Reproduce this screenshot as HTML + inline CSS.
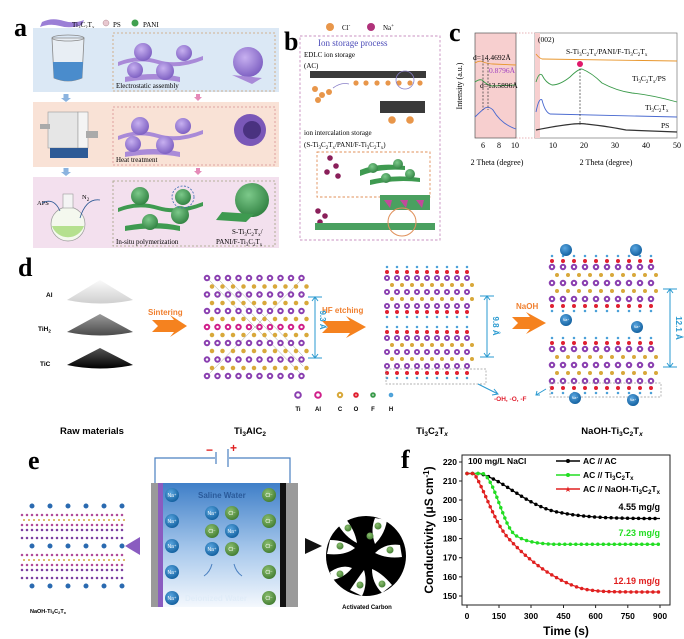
<!DOCTYPE html>
<html><head><meta charset="utf-8"><style>
body{margin:0;background:#fff}
svg{display:block}
.s{font-family:"Liberation Serif",serif}
.a{font-family:"Liberation Sans",sans-serif}
</style></head><body>
<svg width="684" height="639" viewBox="0 0 684 639" xmlns="http://www.w3.org/2000/svg">
<defs>
<linearGradient id="cone1" x1="0" y1="0" x2="0" y2="1"><stop offset="0" stop-color="#fafafa"/><stop offset="1" stop-color="#cfcfcf"/></linearGradient>
<linearGradient id="cone2" x1="0" y1="0" x2="0" y2="1"><stop offset="0" stop-color="#9a9a9a"/><stop offset="1" stop-color="#4a4a4a"/></linearGradient>
<linearGradient id="cone3" x1="0" y1="0" x2="0" y2="1"><stop offset="0" stop-color="#555"/><stop offset="1" stop-color="#000"/></linearGradient>
<linearGradient id="water" x1="0" y1="0" x2="0" y2="1"><stop offset="0" stop-color="#3f7fc8"/><stop offset="0.55" stop-color="#a9c9ec"/><stop offset="1" stop-color="#f4f8fd"/></linearGradient>
<radialGradient id="na" cx="0.4" cy="0.35" r="0.7"><stop offset="0" stop-color="#5aa6e0"/><stop offset="1" stop-color="#0f5d9c"/></radialGradient>
<radialGradient id="cl" cx="0.4" cy="0.35" r="0.7"><stop offset="0" stop-color="#8cbf70"/><stop offset="1" stop-color="#3f7a2f"/></radialGradient>
<radialGradient id="ps" cx="0.4" cy="0.35" r="0.7"><stop offset="0" stop-color="#c7b0f0"/><stop offset="1" stop-color="#7a5cc0"/></radialGradient>
<radialGradient id="pani" cx="0.4" cy="0.35" r="0.7"><stop offset="0" stop-color="#7cc98a"/><stop offset="1" stop-color="#2f8040"/></radialGradient>
</defs>

<!-- ===== Panel a ===== -->
<text x="14" y="36" class="s" font-size="26" font-weight="bold">a</text>
<path d="M42 22 q10 -5 22 -1 q10 3 20 -1 l-2 5 q-12 4 -22 1 q-10 -3 -20 1z" fill="#9b7fd6"/>
<text x="72" y="27" class="s" font-size="7">Ti<tspan font-size="5" dy="2">3</tspan><tspan dy="-2">C</tspan><tspan font-size="5" dy="2">2</tspan><tspan dy="-2">T</tspan><tspan font-size="5" dy="2">x</tspan></text>
<circle cx="106" cy="23" r="3" fill="#e8c8d0" stroke="#b08890" stroke-width="0.5"/><text x="113" y="27" class="s" font-size="7">PS</text>
<circle cx="135" cy="23" r="3.5" fill="#3fa050"/><text x="143" y="27" class="s" font-size="7">PANI</text>
<rect x="33" y="28" width="246" height="64" fill="#dbe8f5"/>
<rect x="33" y="102" width="246" height="65" fill="#f9e2d6"/>
<rect x="33" y="177" width="246" height="71" fill="#f3e0ee"/>
<rect x="113" y="33" width="162" height="58" fill="none" stroke="#d0a070" stroke-dasharray="2 2" stroke-width="0.8"/>
<rect x="113" y="107" width="162" height="58" fill="none" stroke="#d89090" stroke-dasharray="2 2" stroke-width="0.8"/>
<rect x="113" y="181" width="162" height="65" fill="none" stroke="#a0a080" stroke-dasharray="2 2" stroke-width="0.8"/>
<!-- beaker -->
<path d="M52 38 l2 40 q14 6 28 0 l2 -40z" fill="#e8eef4" stroke="#888" stroke-width="0.8"/>
<path d="M53 62 l1 16 q14 6 28 0 l1 -16z" fill="#4a8ccc"/>
<ellipse cx="68" cy="38" rx="16" ry="3" fill="none" stroke="#888" stroke-width="0.8"/>
<!-- furnace -->
<rect x="48" y="112" width="30" height="36" fill="#e6e6e6" stroke="#999" stroke-width="0.6"/>
<rect x="78" y="112" width="10" height="36" fill="#f4f4f4" stroke="#999" stroke-width="0.6"/>
<rect x="50" y="148" width="38" height="10" fill="#2e5a96"/>
<rect x="40" y="124" width="10" height="5" fill="#aaa"/><rect x="86" y="131" width="12" height="7" fill="#aaa"/>
<!-- flask -->
<circle cx="68" cy="224" r="17" fill="#f4f8ee" stroke="#999" stroke-width="0.7"/>
<path d="M52 226 a17 17 0 0 0 32 0z" fill="#b5e08f"/>
<rect x="63" y="194" width="10" height="14" fill="#f4f4f4" stroke="#999" stroke-width="0.6"/>
<text x="37" y="205" class="s" font-size="6.5">APS</text><text x="82" y="199" class="s" font-size="6.5">N<tspan font-size="5" dy="2">2</tspan></text>
<path d="M42 203 q12 -6 18 8" fill="none" stroke="#2e5a96" stroke-width="0.8"/><path d="M100 200 q-14 -2 -20 18" fill="none" stroke="#2e5a96" stroke-width="0.8"/>
<!-- arrows -->
<path d="M66 94 v5" stroke="#8bb3df" stroke-width="5"/><path d="M61 98 l5 4 l5 -4z" fill="#8bb3df"/>
<path d="M66 168 v5" stroke="#8bb3df" stroke-width="5"/><path d="M61 172 l5 4 l5 -4z" fill="#8bb3df"/>
<path d="M198 94 v4" stroke="#e58ab8" stroke-width="4"/><path d="M194 97 l4 4 l4 -4z" fill="#e58ab8"/>
<path d="M198 168 v4" stroke="#e58ab8" stroke-width="4"/><path d="M194 171 l4 4 l4 -4z" fill="#e58ab8"/>
<!-- spheres rows -->
<g>
<path d="M118 62 q20 -8 40 -2 q20 6 45 -4 l0 4 q-25 10 -45 4 q-20 -6 -40 2z" fill="#a98ad8"/>
<path d="M125 77 q30 -6 55 0 l0 5 q-25 -5 -55 0z" fill="#a98ad8"/>
<circle cx="143" cy="52" r="9" fill="url(#ps)"/><circle cx="184" cy="53" r="8" fill="url(#ps)"/><circle cx="135" cy="70" r="8" fill="url(#ps)"/><circle cx="165" cy="71" r="9" fill="url(#ps)"/>
<circle cx="248" cy="62" r="15" fill="url(#ps)"/><path d="M232 75 l30 3 l-10 6z" fill="#a98ad8"/>
<text x="116" y="88" class="s" font-size="7">Electrostatic assembly</text>
</g>
<g>
<path d="M118 136 q20 -8 40 -2 q20 6 45 -4 l0 4 q-25 10 -45 4 q-20 -6 -40 2z" fill="#a98ad8"/>
<path d="M125 152 q30 -6 55 0 l0 5 q-25 -5 -55 0z" fill="#a98ad8"/>
<circle cx="140" cy="126" r="9" fill="url(#ps)"/><circle cx="183" cy="126" r="8" fill="url(#ps)"/><circle cx="133" cy="144" r="8" fill="url(#ps)"/><circle cx="165" cy="145" r="9" fill="url(#ps)"/>
<circle cx="250" cy="130" r="16" fill="#7a58b8"/><circle cx="252" cy="130" r="9" fill="#4a3280"/>
<text x="116" y="162" class="s" font-size="7">Heat treatment</text>
</g>
<g>
<path d="M118 208 q20 -8 40 -2 q20 6 45 -4 l0 4 q-25 10 -45 4 q-20 -6 -40 2z" fill="#3e9a50"/>
<path d="M125 226 q30 -6 55 0 l0 5 q-25 -5 -55 0z" fill="#3e9a50"/>
<circle cx="140" cy="196" r="9" fill="url(#pani)"/><circle cx="183" cy="197" r="8" fill="url(#pani)"/><circle cx="150" cy="222" r="8" fill="url(#pani)"/><circle cx="180" cy="215" r="9" fill="url(#pani)"/>
<circle cx="252" cy="200" r="17" fill="url(#pani)"/><path d="M222 212 l32 2 l-8 8 l-30 -2z" fill="#3e9a50"/>
<circle cx="183" cy="197" r="11" fill="none" stroke="#3a6ab0" stroke-dasharray="2 1.5" stroke-width="0.8"/>
<text x="116" y="244" class="s" font-size="7">In-situ polymerization</text>
<text x="232" y="234" class="s" font-size="7">S-Ti<tspan font-size="5" dy="2">3</tspan><tspan dy="-2">C</tspan><tspan font-size="5" dy="2">2</tspan><tspan dy="-2">T</tspan><tspan font-size="5" dy="2">x</tspan><tspan dy="-2">/</tspan></text>
<text x="216" y="244" class="s" font-size="7">PANI/F-Ti<tspan font-size="5" dy="2">3</tspan><tspan dy="-2">C</tspan><tspan font-size="5" dy="2">2</tspan><tspan dy="-2">T</tspan><tspan font-size="5" dy="2">x</tspan></text>
</g>

<!-- ===== Panel b ===== -->
<text x="284" y="50" class="s" font-size="26" font-weight="bold">b</text>
<circle cx="330" cy="27" r="4" fill="#e8964a"/><text x="342" y="30" class="s" font-size="7">Cl<tspan font-size="5" dy="-3">-</tspan></text>
<circle cx="371" cy="27" r="4" fill="#b0327a"/><text x="383" y="30" class="s" font-size="7">Na<tspan font-size="5" dy="-3">+</tspan></text>
<rect x="300" y="36" width="140" height="204" fill="none" stroke="#c890c0" stroke-dasharray="2.5 2" stroke-width="0.9"/>
<text x="318" y="46" class="s" font-size="9" fill="#4a4ab8">Ion storage process</text>
<text x="304" y="57" class="s" font-size="7">EDLC ion storage</text>
<text x="304" y="68" class="s" font-size="7">(AC)</text>
<rect x="310" y="71" width="116" height="7" fill="#3a3a3a"/>
<g fill="#e8964a"><circle cx="356" cy="83" r="2.6"/><circle cx="366" cy="83" r="2.6"/><circle cx="377" cy="83" r="2.6"/><circle cx="388" cy="83" r="2.6"/><circle cx="399" cy="83" r="2.6"/><circle cx="410" cy="83" r="2.6"/><circle cx="420" cy="83" r="2.6"/><circle cx="315" cy="89" r="3"/><circle cx="322" cy="95" r="3"/><circle cx="329" cy="92" r="3"/><circle cx="318" cy="100" r="3"/><circle cx="392" cy="120" r="3.8"/><circle cx="410" cy="120" r="3.8"/></g>
<circle cx="405" cy="80" r="9" fill="none" stroke="#8a80c8" stroke-width="0.8"/>
<path d="M333 88 q8 -6 16 -4" fill="none" stroke="#8a80c8" stroke-width="0.8"/>
<rect x="380" y="101" width="45" height="12" fill="#3a3a3a"/>
<text x="304" y="135" class="s" font-size="7">ion intercalation storage</text>
<text x="304" y="147" class="s" font-size="7">(S-Ti<tspan font-size="5" dy="2">3</tspan><tspan dy="-2">C</tspan><tspan font-size="5" dy="2">2</tspan><tspan dy="-2">T</tspan><tspan font-size="5" dy="2">x</tspan><tspan dy="-2">/PANI/F-Ti</tspan><tspan font-size="5" dy="2">3</tspan><tspan dy="-2">C</tspan><tspan font-size="5" dy="2">2</tspan><tspan dy="-2">T</tspan><tspan font-size="5" dy="2">x</tspan><tspan dy="-2">)</tspan></text>
<rect x="317" y="152" width="113" height="45" fill="none" stroke="#e0905a" stroke-dasharray="2.5 2" stroke-width="0.9"/>
<g fill="#8a1f5a"><circle cx="330" cy="158" r="2.8"/><circle cx="336" cy="166" r="2.8"/><circle cx="327" cy="172" r="2.8"/><circle cx="338" cy="176" r="2.8"/><circle cx="318" cy="211" r="2.8"/><circle cx="325" cy="216" r="2.8"/><circle cx="320" cy="222" r="2.8"/></g>
<path d="M360 170 q20 -8 45 -4 l0 4 q-25 -2 -45 6z" fill="#3e9a50"/><path d="M370 180 q25 -6 50 -2 l0 4 q-25 -3 -50 3z" fill="#3e9a50"/>
<circle cx="373" cy="168" r="5" fill="url(#pani)"/><circle cx="398" cy="164" r="5" fill="url(#pani)"/><circle cx="386" cy="178" r="5" fill="url(#pani)"/><circle cx="410" cy="174" r="5" fill="url(#pani)"/>
<rect x="380" y="195" width="50" height="15" fill="#4aa060"/><path d="M384 200 l8 0 l-2 8z M400 200 l8 0 l-2 8z M416 200 l8 0 l-2 8z" fill="#c24a9a"/>
<rect x="315" y="223" width="120" height="7" fill="#4aa060"/>
<circle cx="402" cy="222" r="14" fill="none" stroke="#e0905a" stroke-width="1"/>

<!-- ===== Panel c ===== -->
<text x="449" y="41" class="s" font-size="26" font-weight="bold">c</text>
<rect x="475" y="33" width="41" height="105" fill="#f7cfcf" stroke="#555" stroke-width="0.7"/>
<rect x="535" y="33" width="142" height="105" fill="#fff" stroke="#777" stroke-width="0.7"/>
<rect x="535" y="33" width="5" height="105" fill="#f7cfcf"/>
<path d="M516 33 L535 33 M516 138 L535 138" stroke="#e09aa0" stroke-dasharray="1.5 1.5" stroke-width="0.7"/>
<text x="462" y="86" class="s" font-size="8" transform="rotate(-90 462 86)" text-anchor="middle">Intensity (a.u.)</text>
<g class="s" font-size="8" text-anchor="middle"><text x="483" y="148">6</text><text x="499" y="148">8</text><text x="515" y="148">10</text><text x="553" y="148">10</text><text x="584" y="148">20</text><text x="615" y="148">30</text><text x="646" y="148">40</text><text x="677" y="148">50</text>
<text x="497" y="165">2 Theta (degree)</text><text x="606" y="165">2 Theta (degree)</text></g>
<path d="M475 63 q5 -3 8 -1 q6 2 10 2 l23 1" fill="none" stroke="#e8962c" stroke-width="0.9"/>
<path d="M475 82 q4 -3 7 -2 q5 5 10 6 l24 -1" fill="none" stroke="#3a9a4a" stroke-width="0.9"/>
<path d="M475 117 q6 -6 10 -9 q4 -2 8 2 q8 14 23 19" fill="none" stroke="#4a6ad0" stroke-width="0.9"/>
<path d="M483 60 v50 M488 60 v50" stroke="#333" stroke-dasharray="2 1.5" stroke-width="0.7"/>
<text x="473" y="60" class="s" font-size="7.5">d=14.4692Å</text>
<text x="489" y="73" class="s" font-size="7.5" fill="#a040c0">0.8796Å</text>
<text x="480" y="88" class="s" font-size="7.5">d=13.5896Å</text>
<path d="M536 54 q3 4 6 5 l135 2" fill="none" stroke="#e8962c" stroke-width="0.9"/>
<path d="M536 82 q3 -10 6 -7 q4 8 10 10 q8 0 18 -8 q8 -8 12 -8 q10 4 20 14 q15 8 30 10 q20 2 45 9" fill="none" stroke="#3a9a4a" stroke-width="0.9"/>
<path d="M536 112 q3 -15 6 -12 q3 12 8 14 l127 3" fill="none" stroke="#4a6ad0" stroke-width="0.9"/>
<path d="M536 130 q40 -8 50 -6 q20 2 40 6 l51 2" fill="none" stroke="#333" stroke-width="1.2"/>
<path d="M580 65 v60" stroke="#333" stroke-dasharray="2 1.5" stroke-width="0.7"/>
<circle cx="580" cy="64" r="3" fill="#e0186a"/>
<text x="538" y="42" class="s" font-size="7.5">(002)</text>
<text x="566" y="54" class="s" font-size="7.5">S-Ti<tspan font-size="5" dy="2">3</tspan><tspan dy="-2">C</tspan><tspan font-size="5" dy="2">2</tspan><tspan dy="-2">T</tspan><tspan font-size="5" dy="2">x</tspan><tspan dy="-2">/PANI/F-Ti</tspan><tspan font-size="5" dy="2">3</tspan><tspan dy="-2">C</tspan><tspan font-size="5" dy="2">2</tspan><tspan dy="-2">T</tspan><tspan font-size="5" dy="2">x</tspan></text>
<text x="632" y="81" class="s" font-size="7.5">Ti<tspan font-size="5" dy="2">3</tspan><tspan dy="-2">C</tspan><tspan font-size="5" dy="2">2</tspan><tspan dy="-2">T</tspan><tspan font-size="5" dy="2">x</tspan><tspan dy="-2">/PS</tspan></text>
<text x="645" y="110" class="s" font-size="7.5">Ti<tspan font-size="5" dy="2">3</tspan><tspan dy="-2">C</tspan><tspan font-size="5" dy="2">2</tspan><tspan dy="-2">T</tspan><tspan font-size="5" dy="2">x</tspan></text>
<text x="661" y="128" class="s" font-size="7.5">PS</text>

<!-- ===== Panel d ===== -->
<text x="18" y="276" class="s" font-size="26" font-weight="bold">d</text>
<path d="M67 300 L100 280 L133 300 Q100 307 67 300z" fill="url(#cone1)"/>
<path d="M67 332 L100 314 L133 332 Q100 339 67 332z" fill="url(#cone2)"/>
<path d="M67 365 L100 348 L133 365 Q100 372 67 365z" fill="url(#cone3)"/>
<g class="a" font-size="6.5" font-weight="bold"><text x="46" y="297">Al</text><text x="38" y="331">TiH<tspan font-size="4.5" dy="1.5">2</tspan></text><text x="40" y="366">TiC</text></g>
<text x="148" y="315" class="a" font-size="8" font-weight="bold" fill="#f08030">Sintering</text>
<path d="M152 320 h22 l-4 -5 l17 11 l-17 11 l4 -5 h-22 l6 -6z" fill="#f5821f"/>
<text x="322" y="313" class="a" font-size="8" font-weight="bold" fill="#f08030">HF etching</text>
<path d="M322 321 h28 l-4 -5 l20 11 l-20 11 l4 -5 h-28 l6 -6z" fill="#f5821f"/>
<text x="516" y="309" class="a" font-size="8" font-weight="bold" fill="#f08030">NaOH</text>
<path d="M512 317 h18 l-4 -5 l20 11 l-20 11 l4 -5 h-18 l6 -6z" fill="#f5821f"/>
<!-- Ti3AlC2 lattice -->
<g fill="none" stroke-linecap="round">
<g stroke="#999" stroke-width="0.5"><path d="M207 278 L303 376 M217 278 L303 366 M227 278 L303 356 M207 376 L303 278"/></g>
<g stroke="#d8a83a" stroke-width="4.5" stroke-dasharray="0 10.5"><path d="M212 286.5h96M212 303h96M212 319h96M212 335h96M212 351h96M212 368h96"/></g>
<g stroke="#8a3fb0" stroke-width="6.5" stroke-dasharray="0 10.5"><path d="M207 278h96M207 294.5h96M207 311h96M207 343h96M207 359.5h96M207 376h96"/></g>
<path d="M207 327h96" stroke="#d0208a" stroke-width="6.5" stroke-dasharray="0 10.5"/>
<g stroke="#fff" stroke-width="2.5" stroke-dasharray="0 10.5"><path d="M207 278h96M207 294.5h96M207 311h96M207 327h96M207 343h96M207 359.5h96M207 376h96"/></g>
</g>
<g stroke="#2a9ad0" stroke-width="1" fill="none"><path d="M315 297 v61 M308 297 h14 M308 358 h14"/></g>
<path d="M312 301 l3 -4 l3 4 M312 354 l3 4 l3 -4" fill="none" stroke="#2a9ad0"/>
<text x="320" y="320" class="a" font-size="8" font-weight="bold" fill="#2a9ad0" transform="rotate(90 320 320)" text-anchor="middle">9.3 Å</text>
<!-- Ti3C2Tx lattice -->
<g fill="none" stroke-linecap="round">
<g stroke="#d8a83a" stroke-width="4" stroke-dasharray="0 10"><path d="M392 285h90M392 299h90M392 345h90M392 359h90"/></g>
<g stroke="#4aa0d8" stroke-width="2.5" stroke-dasharray="0 10"><path d="M387 267h90M387 317h90M387 327h90M387 378h90"/></g>
<g stroke="#e02030" stroke-width="4" stroke-dasharray="0 10"><path d="M387 272h90M387 312h90M387 332h90M387 373h90"/></g>
<g stroke="#8a3fb0" stroke-width="6" stroke-dasharray="0 10"><path d="M387 278h90M387 292h90M387 306h90M387 338h90M387 352h90M387 366h90"/></g>
<g stroke="#fff" stroke-width="2.2" stroke-dasharray="0 10"><path d="M387 278h90M387 292h90M387 306h90M387 338h90M387 352h90M387 366h90"/></g>
</g>
<rect x="386" y="369" width="100" height="15" fill="none" stroke="#999" stroke-dasharray="2 1.5" stroke-width="0.7"/>
<g stroke="#2a9ad0" stroke-width="1" fill="none"><path d="M487 296 v61 M480 296 h14 M480 357 h14 M484 300 l3 -4 l3 4 M484 353 l3 4 l3 -4"/></g>
<text x="493" y="326" class="a" font-size="8" font-weight="bold" fill="#2a9ad0" transform="rotate(90 493 326)" text-anchor="middle">9.8 Å</text>
<path d="M478 384 l20 10 M494 389 l4 5 l-6 1" fill="none" stroke="#2a9ad0" stroke-width="1"/>
<text x="494" y="401" class="a" font-size="6.5" font-weight="bold" fill="#e02030">-OH, -O, -F</text>
<path d="M546 389 l-10 6 M537 391 l-1 4 l4 0" fill="none" stroke="#2a9ad0" stroke-width="1"/>
<!-- NaOH lattice -->
<g fill="none" stroke-linecap="round">
<g stroke="#d8a83a" stroke-width="4" stroke-dasharray="0 11"><path d="M557 275h105M557 291h105M557 357h105M557 373h105"/></g>
<g stroke="#4aa0d8" stroke-width="2.5" stroke-dasharray="0 11"><path d="M552 256h105M552 311h105M552 338h105M552 393h105"/></g>
<g stroke="#e02030" stroke-width="4" stroke-dasharray="0 11"><path d="M552 261h105M552 306h105M552 343h105M552 388h105"/></g>
<g stroke="#8a3fb0" stroke-width="6.5" stroke-dasharray="0 11"><path d="M552 267h105M552 283h105M552 299h105M552 349h105M552 365h105M552 381h105"/></g>
<g stroke="#fff" stroke-width="2.4" stroke-dasharray="0 11"><path d="M552 267h105M552 283h105M552 299h105M552 349h105M552 365h105M552 381h105"/></g>
</g>
<rect x="550" y="383" width="111" height="14" fill="none" stroke="#999" stroke-dasharray="2 1.5" stroke-width="0.7"/>
<g stroke="#2a9ad0" stroke-width="1" fill="none"><path d="M670 289 v78 M663 289 h14 M663 367 h14 M667 293 l3 -4 l3 4 M667 363 l3 4 l3 -4"/></g>
<text x="676" y="328" class="a" font-size="8" font-weight="bold" fill="#2a9ad0" transform="rotate(90 676 328)" text-anchor="middle">12.1 Å</text>
<g><circle cx="566" cy="250" r="6" fill="url(#na)"/><circle cx="636" cy="250" r="6" fill="url(#na)"/><circle cx="566" cy="320" r="6" fill="url(#na)"/><circle cx="637" cy="327" r="6" fill="url(#na)"/><circle cx="575" cy="398" r="6" fill="url(#na)"/><circle cx="633" cy="400" r="6" fill="url(#na)"/></g>
<g class="a" font-size="3.5" fill="#fff" text-anchor="middle"><text x="566" y="321">Na⁺</text><text x="637" y="328">Na⁺</text><text x="575" y="399">Na⁺</text><text x="633" y="401">Na⁺</text></g>
<!-- element legend -->
<g fill="#fff" stroke-width="2"><circle cx="298" cy="395" r="2.8" stroke="#8a3fb0"/><circle cx="318" cy="395" r="2.8" stroke="#d0208a"/><circle cx="340" cy="395" r="2.2" stroke="#d8a83a"/><circle cx="356" cy="395" r="1.8" stroke="#e02030"/><circle cx="373" cy="395" r="1.8" stroke="#3a9a4a"/><circle cx="391" cy="395" r="1.3" stroke="#4aa0d8"/></g>
<g class="a" font-size="6" font-weight="bold" text-anchor="middle"><text x="298" y="411">Ti</text><text x="318" y="411">Al</text><text x="340" y="411">C</text><text x="356" y="411">O</text><text x="373" y="411">F</text><text x="391" y="411">H</text></g>
<g class="a" font-size="9.5" font-weight="bold" text-anchor="middle">
<text x="92" y="434">Raw materials</text>
<text x="250" y="434">Ti<tspan font-size="6.5" dy="2">3</tspan><tspan dy="-2">AlC</tspan><tspan font-size="6.5" dy="2">2</tspan></text>
<text x="432" y="434">Ti<tspan font-size="6.5" dy="2">3</tspan><tspan dy="-2">C</tspan><tspan font-size="6.5" dy="2">2</tspan><tspan dy="-2">T</tspan><tspan font-size="6.5" dy="2" font-style="italic">x</tspan></text>
<text x="612" y="434">NaOH-Ti<tspan font-size="6.5" dy="2">3</tspan><tspan dy="-2">C</tspan><tspan font-size="6.5" dy="2">2</tspan><tspan dy="-2">T</tspan><tspan font-size="6.5" dy="2" font-style="italic">x</tspan></text>
</g>

<!-- ===== Panel e ===== -->
<text x="28" y="469" class="s" font-size="26" font-weight="bold">e</text>
<path d="M155 483 V458 H215 M229 458 H290 V483" fill="none" stroke="#4a80c0" stroke-width="1.2"/>
<path d="M216 452 v12 M228 449 v18" stroke="#4a80c0" stroke-width="1.2"/>
<text x="206" y="454" class="a" font-size="12" font-weight="bold" fill="#e02020">−</text>
<text x="230" y="452" class="a" font-size="12" font-weight="bold" fill="#e02020">+</text>
<rect x="160" y="483" width="122" height="124" fill="url(#water)"/>
<rect x="151" y="483" width="9" height="124" fill="#9a9a9a"/><rect x="158" y="483" width="5" height="124" fill="#8a5cc0"/>
<rect x="286" y="483" width="12" height="124" fill="#9a9a9a"/><rect x="280" y="483" width="6" height="124" fill="#111"/>
<text x="198" y="498" class="a" font-size="8" font-weight="bold" fill="#2a5a9a">Saline Water</text>
<text x="185" y="601" class="a" font-size="8" font-weight="bold" fill="#e0ecf8">Deionized Water</text>
<g><circle cx="172" cy="495" r="7" fill="url(#na)"/><circle cx="172" cy="521" r="7" fill="url(#na)"/><circle cx="172" cy="546" r="7" fill="url(#na)"/><circle cx="172" cy="572" r="7" fill="url(#na)"/><circle cx="172" cy="598" r="7" fill="url(#na)"/>
<circle cx="269" cy="495" r="7" fill="url(#cl)"/><circle cx="269" cy="521" r="7" fill="url(#cl)"/><circle cx="269" cy="546" r="7" fill="url(#cl)"/><circle cx="269" cy="572" r="7" fill="url(#cl)"/><circle cx="269" cy="598" r="7" fill="url(#cl)"/>
<circle cx="212" cy="513" r="7" fill="url(#na)"/><circle cx="232" cy="513" r="7" fill="url(#cl)"/><circle cx="212" cy="531" r="7" fill="url(#cl)"/><circle cx="232" cy="531" r="7" fill="url(#na)"/><circle cx="212" cy="549" r="7" fill="url(#na)"/><circle cx="232" cy="549" r="7" fill="url(#cl)"/></g>
<g class="a" font-size="5" fill="#fff" text-anchor="middle">
<text x="172" y="497">Na⁺</text><text x="172" y="523">Na⁺</text><text x="172" y="548">Na⁺</text><text x="172" y="574">Na⁺</text><text x="172" y="600">Na⁺</text>
<text x="269" y="497">Cl⁻</text><text x="269" y="523">Cl⁻</text><text x="269" y="548">Cl⁻</text><text x="269" y="574">Cl⁻</text><text x="269" y="600">Cl⁻</text>
<text x="212" y="515">Na⁺</text><text x="232" y="515">Cl⁻</text><text x="212" y="533">Cl⁻</text><text x="232" y="533">Na⁺</text><text x="212" y="551">Na⁺</text><text x="232" y="551">Cl⁻</text></g>
<path d="M212 564 q-2 8 -8 12 M234 564 q2 8 8 12" fill="none" stroke="#4a80c0" stroke-width="1"/>
<path d="M155 546 H140 V537 L125 546 L140 555 V546" fill="#8a5cc0"/>
<path d="M287 546 L305 546 V538 L322 546 L305 554 V546z" fill="#111"/>
<!-- left small lattice -->
<g fill="none" stroke-linecap="round">
<g stroke="#2a6ab0" stroke-width="5" stroke-dasharray="0 18"><path d="M32 506h96M32 546h96M32 586h96"/></g>
<g stroke="#b04a9a" stroke-width="2.5" stroke-dasharray="0 5"><path d="M22 515h104M22 525h104M22 555h104M22 565h104"/></g>
<g stroke="#d8a83a" stroke-width="2" stroke-dasharray="0 5"><path d="M24 520h104M24 560h104"/></g>
<g stroke="#7a3fa0" stroke-width="2.5" stroke-dasharray="0 5"><path d="M22 530h104M22 538h104M22 570h104M22 578h104"/></g>
</g>
<text x="30" y="613" class="a" font-size="5.5" font-weight="bold">NaOH-Ti<tspan font-size="4" dy="1">3</tspan><tspan dy="-1">C</tspan><tspan font-size="4" dy="1">2</tspan><tspan dy="-1">T</tspan><tspan font-size="4" dy="1">x</tspan></text>
<!-- activated carbon -->
<circle cx="366" cy="556" r="40" fill="#000"/>
<g fill="#fff"><path d="M330 540 q15 0 25 8 q-10 8 -28 6z"/><path d="M345 518 q10 12 12 25 q-12 -6 -20 -20z"/><path d="M375 518 q-5 12 0 26 q10 -10 12 -24z"/><path d="M400 545 q-15 -2 -25 8 q12 6 27 4z"/><path d="M392 585 q-10 -12 -20 -16 q0 14 10 24z"/><path d="M350 590 q8 -12 14 -20 q4 14 -2 26z"/><path d="M330 572 q12 -8 22 -4 q-8 10 -20 12z"/></g>
<g fill="url(#cl)"><circle cx="340" cy="546" r="3.5"/><circle cx="348" cy="528" r="3.5"/><circle cx="378" cy="526" r="3.5"/><circle cx="390" cy="550" r="3.5"/><circle cx="382" cy="584" r="3.5"/><circle cx="360" cy="585" r="3.5"/><circle cx="340" cy="574" r="3.5"/><circle cx="370" cy="536" r="3.5"/></g>
<text x="367" y="609" class="a" font-size="6" font-weight="bold" text-anchor="middle">Activated Carbon</text>

<!-- ===== Panel f ===== -->
<text x="401" y="468" class="s" font-size="26" font-weight="bold">f</text>
<rect x="462" y="455" width="208" height="150" fill="none" stroke="#222" stroke-width="1"/>
<g stroke="#222" stroke-width="1">
<path d="M462 462h-3M462 481h-3M462 500h-3M462 519.5h-3M462 538.6h-3M462 557.7h-3M462 576.9h-3M462 596h-3"/>
<path d="M467 605v3M499 605v3M531 605v3M563.5 605v3M595.6 605v3M627.8 605v3M660 605v3"/>
</g>
<g class="a" font-size="8.5" font-weight="bold" text-anchor="end"><text x="457" y="465">220</text><text x="457" y="484">210</text><text x="457" y="503">200</text><text x="457" y="522">190</text><text x="457" y="541.5">180</text><text x="457" y="560.7">170</text><text x="457" y="580">160</text><text x="457" y="599">150</text></g>
<g class="a" font-size="8.5" font-weight="bold" text-anchor="middle"><text x="467" y="619">0</text><text x="499" y="619">150</text><text x="531" y="619">300</text><text x="563.5" y="619">450</text><text x="595.6" y="619">600</text><text x="627.8" y="619">750</text><text x="660" y="619">900</text></g>
<text x="566" y="635" class="a" font-size="12" font-weight="bold" text-anchor="middle">Time (s)</text>
<text x="433" y="530" class="a" font-size="12" font-weight="bold" text-anchor="middle" transform="rotate(-90 433 530)">Conductivity (μS cm<tspan font-size="8" dy="-4">-1</tspan><tspan dy="4">)</tspan></text>
<text x="468" y="464" class="a" font-size="8.5" font-weight="bold">100 mg/L NaCl</text>
<!-- curves -->
<path id="cb" d="M467 473.5 L480 473.5 C505 481 525 504 555 511.5 C580 517 605 518.5 660 518.5" fill="none" stroke="#000" stroke-width="1.2"/>
<path d="M467 473.5 L480 473.5 C505 481 525 504 555 511.5 C580 517 605 518.5 660 518.5" fill="none" stroke="#000" stroke-width="3.5" stroke-dasharray="0 5.5" stroke-linecap="round"/>
<path d="M467 473.5 L483 473.5 C495 480 503 525 515 535 C525 542 540 544.3 560 544.3 L660 544.3" fill="none" stroke="#22dd22" stroke-width="1.2"/>
<path d="M467 473.5 L483 473.5 C495 480 503 525 515 535 C525 542 540 544.3 560 544.3 L660 544.3" fill="none" stroke="#22dd22" stroke-width="3.5" stroke-dasharray="0 5.5" stroke-linecap="round"/>
<path d="M467 473.5 L474 473.5 C485 490 495 525 510 540 C530 562 555 580 580 588 C595 592 610 592 660 592" fill="none" stroke="#e02020" stroke-width="1.2"/>
<path d="M467 473.5 L474 473.5 C485 490 495 525 510 540 C530 562 555 580 580 588 C595 592 610 592 660 592" fill="none" stroke="#e02020" stroke-width="3.5" stroke-dasharray="0 5.5" stroke-linecap="round"/>
<!-- legend -->
<path d="M556 461h24" stroke="#000" stroke-width="1.5"/><circle cx="568" cy="461" r="2" fill="#000"/>
<path d="M556 475h24" stroke="#22dd22" stroke-width="1.5"/><circle cx="568" cy="475" r="2" fill="#22dd22"/>
<path d="M556 489h24" stroke="#e02020" stroke-width="1.5"/><text x="568" y="492" font-size="8" fill="#e02020" text-anchor="middle">★</text>
<g class="a" font-size="8.5" font-weight="bold">
<text x="583" y="464">AC // AC</text>
<text x="583" y="478">AC // Ti<tspan font-size="6" dy="2">3</tspan><tspan dy="-2">C</tspan><tspan font-size="6" dy="2">2</tspan><tspan dy="-2">T</tspan><tspan font-size="6" dy="2">x</tspan></text>
<text x="583" y="492">AC // NaOH-Ti<tspan font-size="6" dy="2">3</tspan><tspan dy="-2">C</tspan><tspan font-size="6" dy="2">2</tspan><tspan dy="-2">T</tspan><tspan font-size="6" dy="2">x</tspan></text>
<text x="660" y="510" text-anchor="end" font-size="9">4.55 mg/g</text>
<text x="660" y="536" text-anchor="end" font-size="9" fill="#22dd22">7.23 mg/g</text>
<text x="660" y="584" text-anchor="end" font-size="9" fill="#e02020">12.19 mg/g</text>
</g>
</svg>
</body></html>
